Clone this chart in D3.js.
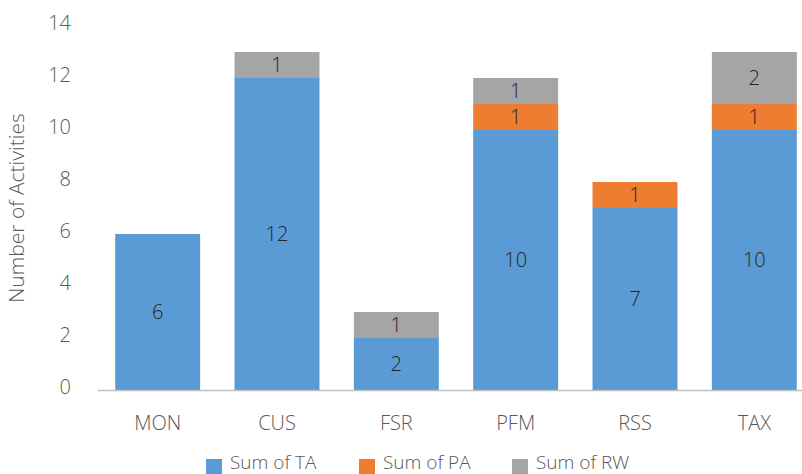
<!DOCTYPE html>
<html>
<head>
<meta charset="utf-8">
<script src="https://cdn.jsdelivr.net/npm/d3@7"></script>
<style>
  body { margin: 0; background: #fff; }
  svg text { font-family: "Open Sans", sans-serif; font-weight: 300; }
</style>
</head>
<body>
<div id="chart"></div>
<script>
// chart data
const categories = ['MON', 'CUS', 'FSR', 'PFM', 'RSS', 'TAX'];
const sumTA = [6, 12, 2, 10, 7, 10];
const sumPA = [0, 0, 0, 1, 1, 1];
const sumRW = [0, 1, 1, 1, 0, 2];
const seriesNames = ['Sum of TA', 'Sum of PA', 'Sum of RW'];
const seriesColors = ['#5B9BD5', '#ED7D31', '#A5A5A5'];
const yTicks = [0, 2, 4, 6, 8, 10, 12, 14];

const width = 802, height = 474;

const svg = d3.select('#chart').append('svg')
    .attr('width', width)
    .attr('height', height);

const x = d3.scaleBand()
    .domain(categories)
    .range([98, 814])
    .paddingInner(0.288)
    .paddingOuter(0.144);

const y = d3.scaleLinear()
    .domain([0, 14])
    .range([390, 26]);

// stack the three series
const rows = categories.map((c, i) => ({ cat: c, TA: sumTA[i], PA: sumPA[i], RW: sumRW[i] }));
const stacked = d3.stack().keys(['TA', 'PA', 'RW'])(rows);

const layers = svg.selectAll('g.layer')
    .data(stacked)
    .enter().append('g')
    .attr('class', 'layer')
    .attr('fill', (d, i) => seriesColors[i]);

layers.selectAll('rect')
    .data(d => d.filter(p => p[1] - p[0] > 0))
    .enter().append('rect')
    .attr('x', d => x(d.data.cat))
    .attr('width', x.bandwidth())
    .attr('y', d => y(d[1]))
    .attr('height', d => y(d[0]) - y(d[1]));

layers.selectAll('text')
    .data(d => d.filter(p => p[1] - p[0] > 0))
    .enter().append('text')
    .attr('x', d => x(d.data.cat) + x.bandwidth() / 2)
    .attr('y', d => (y(d[0]) + y(d[1])) / 2)
    .attr('dy', '0.35em')
    .attr('text-anchor', 'middle')
    .attr('font-size', 20)
    .attr('fill', '#262626')
    .text(d => d[1] - d[0]);

// x axis line
svg.append('line')
    .attr('x1', 98).attr('x2', width)
    .attr('y1', 390.5).attr('y2', 390.5)
    .attr('stroke', '#BFBFBF')
    .attr('stroke-width', 1.5);

// category labels
svg.selectAll('text.cat')
    .data(categories)
    .enter().append('text')
    .attr('class', 'cat')
    .attr('x', d => x(d) + x.bandwidth() / 2)
    .attr('y', 423)
    .attr('dy', '0.35em')
    .attr('text-anchor', 'middle')
    .attr('font-size', 20)
    .attr('fill', '#595959')
    .text(d => d);

// y tick labels
svg.selectAll('text.ytick')
    .data(yTicks)
    .enter().append('text')
    .attr('class', 'ytick')
    .attr('x', 71)
    .attr('y', d => y(d) - 3)
    .attr('dy', '0.35em')
    .attr('text-anchor', 'end')
    .attr('font-size', 20)
    .attr('fill', '#595959')
    .text(d => d);

// y axis title
svg.append('text')
    .attr('transform', 'translate(17,' + 208 + ') rotate(-90)')
    .attr('dy', '0.35em')
    .attr('text-anchor', 'middle')
    .attr('font-size', 21)
    .attr('fill', '#595959')
    .text('Number of Activities');

// legend
const legendX = [206, 359, 512];
const legend = svg.selectAll('g.legend')
    .data(seriesNames)
    .enter().append('g')
    .attr('class', 'legend')
    .attr('transform', (d, i) => 'translate(' + legendX[i] + ',459)');

legend.append('rect')
    .attr('width', 16).attr('height', 16)
    .attr('fill', (d, i) => seriesColors[i]);

legend.append('text')
    .attr('x', 24)
    .attr('y', 3)
    .attr('dy', '0.35em')
    .attr('font-size', 19)
    .attr('fill', '#595959')
    .text(d => d);
</script>
</body>
</html>
